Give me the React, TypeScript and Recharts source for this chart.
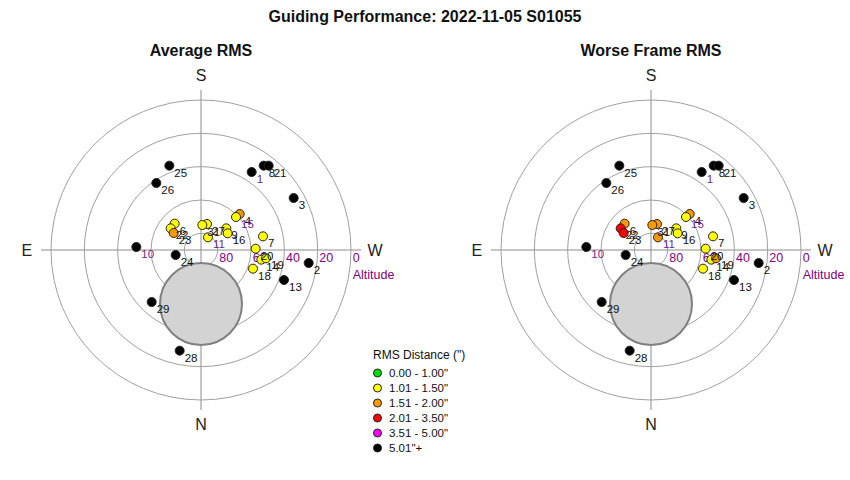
import { ScatterChart, Scatter, XAxis, YAxis, ReferenceLine, ReferenceDot } from "recharts";

// frame numbers, positions in degrees from zenith (west +, south +)
const FRAME_IDS = [1, 2, 3, 4, 6, 7, 8, 9, 10, 11, 13, 14, 15, 16, 18, 19, 20, 21, 22, 23, 24, 25, 26, 27, 28, 29, 31];
const WEST_OFFSET = [30.4, 64.6, 55.6, 23.2, -15.8, 37.2, 37.6, 15.2, -38.8, 4.2, 49.8, 36.2, 21.0, 16.0, 31.2, 39.0, 32.8, 40.6, -18.2, -16.4, -15.2, -19.0, -26.8, 3.6, -12.8, -29.6, 0.8];
const SOUTH_OFFSET = [46.8, -7.8, 31.2, 21.6, 15.8, 8.2, 50.6, 13.0, 1.8, 7.6, -18.0, -5.8, 19.8, 10.0, -11.2, -5.0, 0.8, 50.6, 13.0, 10.2, -3.0, 50.6, 40.2, 15.6, -60.4, -31.2, 15.0];

// RMS band index per frame (0 = best ... 5 = worst)
const AVG_RMS_BAND = [5, 5, 5, 2, 1, 1, 5, 1, 5, 1, 5, 1, 1, 1, 1, 1, 1, 5, 1, 2, 5, 5, 5, 1, 5, 5, 1];
const WORST_RMS_BAND = [5, 5, 5, 2, 2, 1, 5, 1, 5, 2, 5, 1, 1, 1, 1, 2, 1, 5, 3, 3, 5, 5, 5, 2, 5, 5, 2];

const BAND_LABELS = ['0.00 - 1.00"', '1.01 - 1.50"', '1.51 - 2.00"', '2.01 - 3.50"', '3.51 - 5.00"', '5.01"+'];
const BAND_COLORS = ["#00e000", "#ffff00", "#ff9900", "#ff0000", "#ff00ff", "#000000"];

const ALT_RINGS = [80, 60, 40, 20, 0];
const COMPASS = [
  { name: "S", x: 0, y: 104.5 },
  { name: "N", x: 0, y: -104.5 },
  { name: "E", x: -104.5, y: 0 },
  { name: "W", x: 104.5, y: 0 },
];
// grey exclusion disc
const MOON = { x: 0, y: -32.4, radius: 24.6 };

const PURPLE_LABELS = new Set([1, 10, 11, 15]);

const SIZE = 400;
const DOMAIN = 120;
const PX_PER_DEG = SIZE / (2 * DOMAIN);
const FONT = "'Liberation Sans', Arial, sans-serif";

const Dot = (props: any) => {
  const p = props.payload ?? props;
  return <circle cx={props.cx} cy={props.cy} r={4.5} fill={BAND_COLORS[p.band]} stroke="#222" strokeWidth={1} />;
};

const DotLabel = (props: any) => {
  const p = props.payload ?? props;
  return (
    <text x={props.cx + 5} y={props.cy + 11} fontSize={11.5} fill={PURPLE_LABELS.has(p.id) ? "#6a2a8a" : "#111"} fontFamily={FONT}>
      {p.id}
    </text>
  );
};

const PolarPanel = ({ bands, left }: { bands: number[]; left: number }) => {
  const data = FRAME_IDS.map((id, i) => ({ id, x: WEST_OFFSET[i], y: SOUTH_OFFSET[i], band: bands[i] }));
  return (
    <div style={{ position: "absolute", left, top: 50 }}>
      <ScatterChart width={SIZE} height={SIZE} margin={{ top: 0, right: 0, bottom: 0, left: 0 }}>
        <XAxis type="number" dataKey="x" domain={[-DOMAIN, DOMAIN]} hide />
        <YAxis type="number" dataKey="y" domain={[-DOMAIN, DOMAIN]} hide />
        {ALT_RINGS.map((alt) => (
          <ReferenceDot key={alt} x={0} y={0} r={(90 - alt) * PX_PER_DEG} fill="none" stroke="#a0a0a0" strokeWidth={1} />
        ))}
        <ReferenceLine segment={[{ x: 0, y: -96 }, { x: 0, y: 96 }]} stroke="#8c8c8c" />
        <ReferenceLine segment={[{ x: -96, y: 0 }, { x: 96, y: 0 }]} stroke="#8c8c8c" />
        {ALT_RINGS.map((alt) => (
          <ReferenceDot
            key={"l" + alt}
            x={90 - alt + 1}
            y={-4.8}
            r={0}
            shape={(p: any) => (
              <text x={p.cx} y={p.cy} dominantBaseline="central" fontSize={12.5} fill="#800080" fontFamily={FONT}>
                {alt}
              </text>
            )}
          />
        ))}
        <ReferenceDot
          x={91}
          y={-14.8}
          r={0}
          shape={(p: any) => (
            <text x={p.cx} y={p.cy} dominantBaseline="central" fontSize={12.5} fill="#800080" fontFamily={FONT}>
              Altitude
            </text>
          )}
        />
        {COMPASS.map((c) => (
          <ReferenceDot
            key={c.name}
            x={c.x}
            y={c.y}
            r={0}
            shape={(p: any) => (
              <text x={p.cx} y={p.cy} textAnchor="middle" dominantBaseline="central" fontSize={16} fill="#222" fontFamily={FONT}>
                {c.name}
              </text>
            )}
          />
        ))}
        <ReferenceDot x={MOON.x} y={MOON.y} r={MOON.radius * PX_PER_DEG} fill="#d3d3d3" stroke="#808080" strokeWidth={2} />
        <Scatter data={data} isAnimationActive={false} shape={<Dot />} />
        <Scatter data={data} isAnimationActive={false} shape={<DotLabel />} />
      </ScatterChart>
    </div>
  );
};

export default function App() {
  return (
    <div style={{ position: "absolute", left: 0, top: 0, width: 850, height: 480, background: "#fff", fontFamily: FONT }}>
      <div style={{ position: "absolute", left: 0, width: 850, top: 8, textAlign: "center", fontWeight: "bold", fontSize: 16, color: "#111" }}>
        Guiding Performance: 2022-11-05 S01055
      </div>
      <div style={{ position: "absolute", left: 101, width: 200, top: 42, textAlign: "center", fontWeight: "bold", fontSize: 16, color: "#111" }}>
        Average RMS
      </div>
      <div style={{ position: "absolute", left: 551, width: 200, top: 42, textAlign: "center", fontWeight: "bold", fontSize: 16, color: "#111" }}>
        Worse Frame RMS
      </div>
      <PolarPanel bands={AVG_RMS_BAND} left={1} />
      <PolarPanel bands={WORST_RMS_BAND} left={451} />
      <svg style={{ position: "absolute", left: 360, top: 340 }} width={130} height={120}>
        <text x={13} y={15} dominantBaseline="central" fontSize={12} fill="#111" fontFamily={FONT}>
          RMS Distance (")
        </text>
        {BAND_LABELS.map((lab, i) => (
          <g key={lab}>
            <circle cx={17.5} cy={33 + i * 15} r={4} fill={BAND_COLORS[i]} stroke="#222" />
            <text x={29} y={33 + i * 15} dominantBaseline="central" fontSize={11.5} fill="#111" fontFamily={FONT}>
              {lab}
            </text>
          </g>
        ))}
      </svg>
    </div>
  );
}
